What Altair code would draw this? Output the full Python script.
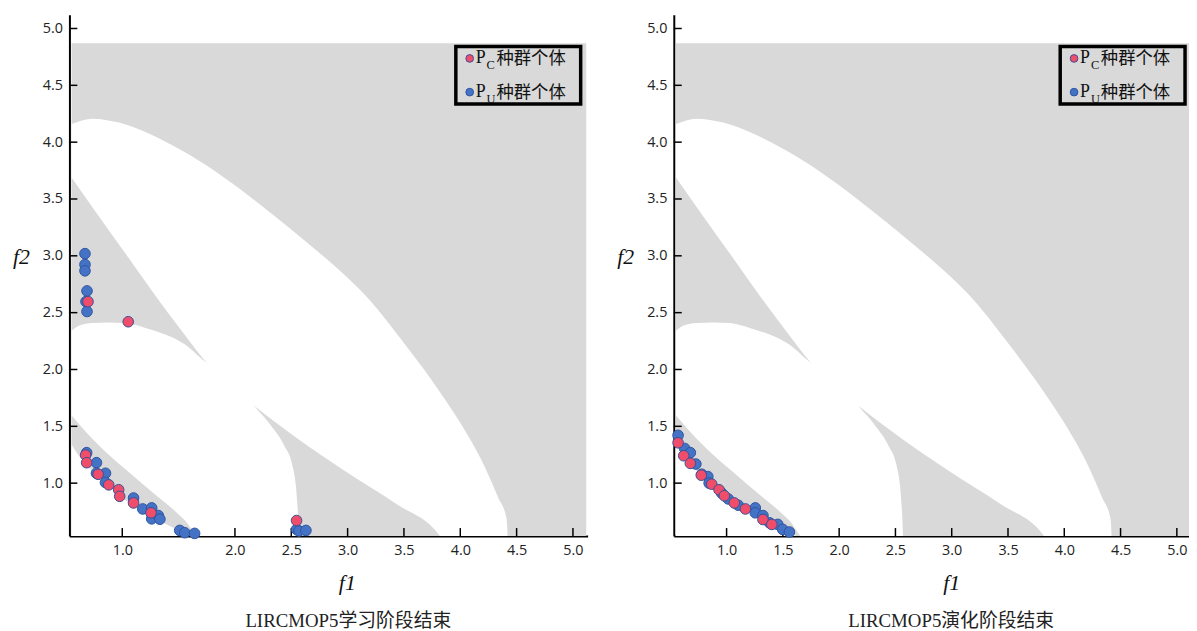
import altair as alt
import pandas as pd

# ---------------- axes ----------------
X_TICKS = [1.0, 1.5, 2.0, 2.5, 3.0, 3.5, 4.0, 4.5, 5.0]
Y_TICKS = [1.0, 1.5, 2.0, 2.5, 3.0, 3.5, 4.0, 4.5, 5.0]
X_DOMAIN_LEFT = [0.531, 5.13]
X_DOMAIN_RIGHT = [0.531, 5.108]
Y_DOMAIN = [0.535, 5.12]

# ---------------- objective-space regions ----------------
REGION_F1 = [0.55, 5.118]
REGION_F2 = [0.535, 4.87]

# upper edge of the large infeasible ellipse
BIG_UPPER_F1 = [0.55, 0.734, 0.971, 1.235, 1.525, 1.824, 2.114, 2.404, 2.703, 2.993,
                3.195, 3.476, 3.740, 3.977, 4.180, 4.338, 4.409, 4.417, 4.42]
BIG_UPPER_F2 = [4.16, 4.207, 4.172, 4.076, 3.928, 3.745, 3.536, 3.309, 3.065, 2.813,
                2.612, 2.264, 1.915, 1.566, 1.218, 0.869, 0.695, 0.608, 0.535]
# lower edge of the large infeasible ellipse
BIG_LOWER_F1 = [0.55, 0.795, 1.059, 1.296, 1.525, 1.747, 1.956, 2.17, 2.554, 2.993, 3.433, 3.811, 3.82]
BIG_LOWER_F2 = [3.69, 3.344, 2.978, 2.647, 2.342, 2.062, 1.854, 1.68, 1.392, 1.096, 0.817, 0.547, 0.535]
# upper edge of the small infeasible ellipse
SMALL_UPPER_F1 = [0.55, 0.619, 0.736, 0.883, 1.030, 1.206, 1.382, 1.557, 1.747, 1.850,
                  2.026, 2.17, 2.319, 2.436, 2.509, 2.540, 2.553, 2.562, 2.567]
SMALL_UPPER_F2 = [2.34, 2.386, 2.409, 2.414, 2.409, 2.366, 2.307, 2.220, 2.062, 2.002,
                  1.871, 1.68, 1.508, 1.334, 1.160, 0.986, 0.826, 0.678, 0.535]
# lower edge of the small infeasible ellipse
SMALL_LOWER_F1 = [0.55, 0.678, 0.883, 1.088, 1.294, 1.469, 1.586, 1.645, 1.657]
SMALL_LOWER_F2 = [1.595, 1.451, 1.247, 1.072, 0.898, 0.753, 0.637, 0.549, 0.535]
# Pareto front (lower edge of the feasible band)
PF_F1 = [0.55, 0.62, 0.68, 0.78, 0.87, 0.98, 1.07, 1.17, 1.32, 1.40, 1.50, 1.56, 1.62]
PF_F2 = [1.34, 1.235, 1.165, 1.065, 0.985, 0.885, 0.822, 0.768, 0.676, 0.633, 0.585, 0.56, 0.535]

# ---------------- populations: learning stage ----------------
L_PC_F1 = [0.675, 0.684, 0.786, 0.880, 0.968, 0.977, 1.100, 1.255, 0.696, 1.053, 2.547]
L_PC_F2 = [1.247, 1.180, 1.078, 0.985, 0.942, 0.884, 0.826, 0.739, 2.597, 2.420, 0.671]
L_PU_F1 = [0.684, 0.771, 0.771, 0.851, 0.851, 1.100, 1.182, 1.261, 1.261, 1.320, 1.334,
           1.510, 1.554, 1.642, 0.669, 0.669, 0.669, 0.687, 0.678, 0.687, 2.547, 2.568, 2.630]
L_PU_F2 = [1.268, 1.180, 1.087, 1.087, 1.006, 0.869, 0.773, 0.782, 0.686, 0.715, 0.683,
           0.584, 0.564, 0.558, 3.019, 2.923, 2.868, 2.691, 2.597, 2.510, 0.593, 0.579, 0.584]

# ---------------- populations: evolution stage ----------------
E_PC_F1 = [0.569, 0.619, 0.678, 0.775, 0.868, 0.933, 0.980, 1.068, 1.167, 1.323, 1.402]
E_PC_F2 = [1.355, 1.241, 1.174, 1.070, 0.991, 0.942, 0.889, 0.826, 0.773, 0.680, 0.637]
E_PU_F1 = [0.569, 0.628, 0.678, 0.727, 0.780, 0.833, 0.845, 0.956, 1.015, 1.103, 1.255,
           1.255, 1.323, 1.382, 1.455, 1.499, 1.558]
E_PU_F2 = [1.421, 1.305, 1.268, 1.168, 1.078, 1.058, 1.000, 0.913, 0.861, 0.806, 0.782,
           0.739, 0.715, 0.651, 0.637, 0.593, 0.570]

CAPTIONS = ["LIRCMOP5学习阶段结束", "LIRCMOP5演化阶段结束"]
LEGEND_MAIN = "P"
LEGEND_SUBS = ["C", "U"]
LEGEND_SUFFIX = "种群个体"

GRAY = "#d9d9d9"
RED = "#ef4d69"
BLUE = "#4472c4"
RED_EDGE = "#3d4f96"
BLUE_EDGE = "#2f559f"
SERIF = "'Liberation Serif', 'Noto Sans CJK SC'"
PLOT_H = 526


def panel(pc_f1, pc_f2, pu_f1, pu_f2, width, x_domain, caption, label_expr):
    xs = alt.Scale(domain=x_domain, nice=False, zero=False)
    ys = alt.Scale(domain=Y_DOMAIN, nice=False, zero=False)
    common = dict(domainColor="black", domainWidth=2, ticks=False, tickSize=0, grid=False,
                  labelFont="Open Sans", labelFontSize=14.5, labelColor="#222",
                  titleFont="Liberation Serif", titleFontStyle="italic", titleFontWeight="normal",
                  titleFontSize=22, titleColor="#111", titleAlign="center", titleBaseline="middle")
    xaxis = alt.Axis(values=X_TICKS, labelExpr=label_expr, labelPadding=8, title="f1",
                     titleX=280, titleY=47, **common)
    yaxis = alt.Axis(values=Y_TICKS, format=".1f", labelPadding=7, title="f2", titleAngle=0,
                     titleX=-49, titleY=244, **common)

    def X(field):
        return alt.X(field, scale=xs, axis=xaxis)

    def Y(field):
        return alt.Y(field, scale=ys, axis=yaxis)

    region = alt.Chart(pd.DataFrame({"x0": [REGION_F1[0]], "x1": [REGION_F1[1]],
                                     "y0": [REGION_F2[0]], "y1": [REGION_F2[1]]})).mark_rect(
        color=GRAY, clip=True).encode(x=X("x0:Q"), x2="x1:Q", y=Y("y0:Q"), y2="y1:Q")

    def area(f1, f2, color):
        return alt.Chart(pd.DataFrame({"f1": f1, "f2": f2})).mark_area(
            color=color, interpolate="monotone", clip=True, opacity=1).encode(
            x=X("f1:Q"), y=Y("f2:Q"), y2=alt.datum(Y_DOMAIN[0]))

    xt = alt.Chart(pd.DataFrame({"v": X_TICKS})).mark_rule(color="black", strokeWidth=1.5).encode(
        x=X("v:Q"), y=alt.value(PLOT_H), y2=alt.value(PLOT_H - 8))
    yt = alt.Chart(pd.DataFrame({"v": Y_TICKS})).mark_rule(color="black", strokeWidth=1.5).encode(
        y=Y("v:Q"), x=alt.value(0), x2=alt.value(8))

    def pts(f1, f2, fill, stroke):
        return alt.Chart(pd.DataFrame({"f1": f1, "f2": f2})).mark_point(
            shape="circle", filled=True, fill=fill, stroke=stroke, strokeWidth=1,
            opacity=1, size=115).encode(x=X("f1:Q"), y=Y("f2:Q"))

    box = alt.Chart(pd.DataFrame({"k": [0]})).mark_rect(
        fill=GRAY, stroke="black", strokeWidth=3.5).encode(
        x=alt.value(390), x2=alt.value(516), y=alt.value(32), y2=alt.value(90))

    def dot(fill, stroke, y):
        return alt.Chart(pd.DataFrame({"k": [0]})).mark_point(
            shape="circle", filled=True, fill=fill, stroke=stroke, strokeWidth=1,
            opacity=1, size=60).encode(x=alt.value(404), y=alt.value(y))

    def txt(s, x, y, size):
        return alt.Chart(pd.DataFrame({"t": [s]})).mark_text(
            align="left", baseline="middle", font=SERIF, fontSize=size, color="#111").encode(
            text="t:N", x=alt.value(x), y=alt.value(y))

    legend = [box,
              dot(RED, RED_EDGE, 44), txt(LEGEND_MAIN, 410, 44, 18), txt(LEGEND_SUBS[0], 421, 51, 12.5),
              txt(LEGEND_SUFFIX, 431, 44.5, 17.5),
              dot(BLUE, BLUE_EDGE, 78), txt(LEGEND_MAIN, 410, 78, 18), txt(LEGEND_SUBS[1], 421, 85, 12.5),
              txt(LEGEND_SUFFIX, 431, 78.5, 17.5)]

    return alt.layer(
        region,
        area(BIG_UPPER_F1, BIG_UPPER_F2, "white"),
        area(BIG_LOWER_F1, BIG_LOWER_F2, GRAY),
        area(SMALL_UPPER_F1, SMALL_UPPER_F2, "white"),
        area(SMALL_LOWER_F1, SMALL_LOWER_F2, GRAY),
        area(PF_F1, PF_F2, "white"),
        xt, yt,
        pts(pu_f1, pu_f2, BLUE, BLUE_EDGE),
        pts(pc_f1, pc_f2, RED, RED_EDGE),
        *legend,
    ).properties(
        width=width, height=PLOT_H,
        title=alt.TitleParams(caption, orient="bottom", anchor="middle", frame="group",
                              font=SERIF, fontSize=19, fontWeight="normal", color="#222",
                              offset=19, dx=20))


left = panel(L_PC_F1, L_PC_F2, L_PU_F1, L_PU_F2, 523, X_DOMAIN_LEFT, CAPTIONS[0],
             "datum.value == 1.5 ? '' : format(datum.value, '.1f')")
right = panel(E_PC_F1, E_PC_F2, E_PU_F1, E_PU_F2, 520, X_DOMAIN_RIGHT, CAPTIONS[1],
              "format(datum.value, '.1f')")

chart = alt.hconcat(left, right, spacing=29).configure_view(stroke=None).properties(
    padding={"left": 4, "top": 4, "right": 0, "bottom": 0}, background="white")

chart.save("out.html", embed_options={"renderer": "svg", "actions": False})
